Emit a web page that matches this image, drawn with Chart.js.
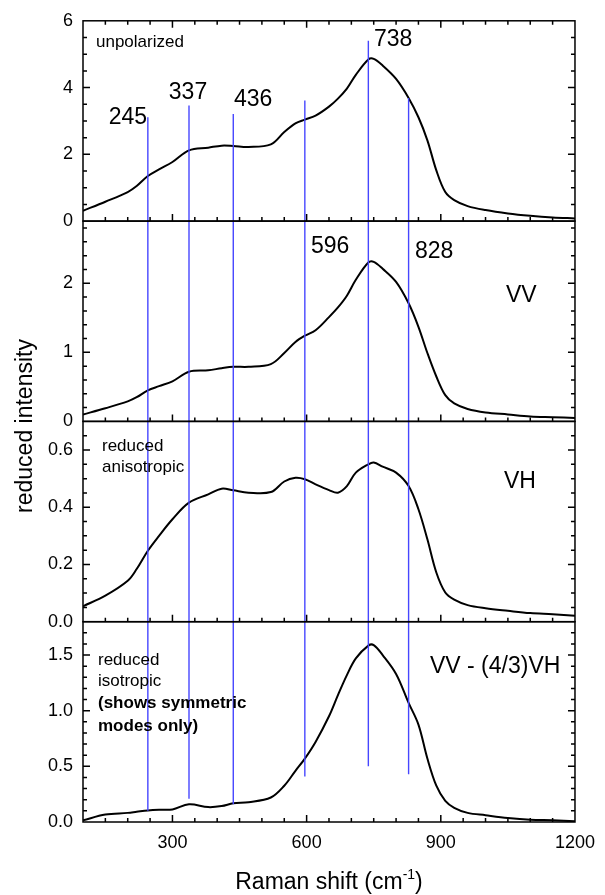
<!DOCTYPE html>
<html>
<head>
<meta charset="utf-8">
<script src="https://cdn.jsdelivr.net/npm/chart.js@4.4.1/dist/chart.umd.min.js"></script>
<style>
  html, body { margin: 0; padding: 0; background: #fff; }
</style>
</head>
<body>
<canvas id="raman" width="605" height="895"></canvas>
<script>
// Raman shift (cm-1) shared by all four spectra
const ramanShift = [100, 150, 200, 220, 245, 270, 300, 337, 380, 410, 436, 470, 520, 550, 575, 596, 620, 650, 670, 690, 710,
  738, 750, 770, 800, 828, 850, 870, 890, 910, 930, 960, 1000, 1050, 1100, 1150, 1200];

// reduced intensities
const unpolarized = [0.31, 0.58, 0.87, 1.05, 1.35, 1.55, 1.77, 2.12, 2.20, 2.26, 2.25, 2.22, 2.30, 2.67, 2.93, 3.04, 3.16, 3.43, 3.67, 3.97, 4.38,
  4.84, 4.86, 4.66, 4.26, 3.69, 3.11, 2.42, 1.52, 0.87, 0.63, 0.45, 0.33, 0.23, 0.16, 0.11, 0.08];
const vv = [0.10, 0.19, 0.29, 0.35, 0.45, 0.51, 0.58, 0.72, 0.74, 0.77, 0.79, 0.79, 0.83, 0.99, 1.15, 1.24, 1.32, 1.51, 1.65, 1.82, 2.05,
  2.30, 2.31, 2.21, 2.02, 1.71, 1.37, 0.99, 0.65, 0.38, 0.26, 0.18, 0.13, 0.10, 0.07, 0.06, 0.05];
const vh = [0.054, 0.091, 0.143, 0.184, 0.248, 0.300, 0.358, 0.416, 0.445, 0.465, 0.459, 0.451, 0.453, 0.490, 0.503, 0.498, 0.480, 0.460, 0.451, 0.474, 0.521,
  0.550, 0.556, 0.542, 0.521, 0.474, 0.393, 0.288, 0.172, 0.102, 0.077, 0.058, 0.047, 0.038, 0.030, 0.026, 0.021];
const isotropic = [0.015, 0.067, 0.082, 0.092, 0.104, 0.110, 0.113, 0.159, 0.134, 0.143, 0.168, 0.178, 0.220, 0.326, 0.460, 0.570, 0.720, 0.950, 1.140, 1.320, 1.470,
  1.585, 1.590, 1.500, 1.330, 1.070, 0.875, 0.570, 0.326, 0.190, 0.128, 0.082, 0.061, 0.037, 0.021, 0.015, 0.006];

// mode markers: shift, top end (unpolarized units), bottom end (isotropic units)
const peakShifts = [245, 337, 436, 596, 738, 828];
const peakTops = [3.11, 3.46, 3.21, 3.61, 5.40, 3.69];
const peakBottoms = [0.10, 0.21, 0.16, 0.41, 0.50, 0.43];
const peakLabels = ['245', '337', '436', '596', '738', '828'];

// axis limits and tick steps per panel
const xTicks = [300, 600, 900, 1200];
const panelMax = [6, 2.9, 0.7, 1.8];
const majorSteps = [2, 1, 0.2, 0.5];
const minorSteps = [0.5, 0.2, 0.05, 0.1];
const labelDigits = [0, 0, 1, 1];

const FONT = '"Liberation Sans", Arial, Helvetica, sans-serif';
const panelIds = ['y1', 'y2', 'y3', 'y4'];

Chart.defaults.font.family = FONT;
Chart.defaults.color = '#000';

// text placed on the panels (pixel positions, middle baseline)
const notes = [
  { text: 'unpolarized', x: 96, y: 42, font: '17px' },
  { text: 'reduced', x: 102, y: 446, font: '17px' },
  { text: 'anisotropic', x: 102, y: 467, font: '17px' },
  { text: 'reduced', x: 98, y: 660, font: '17px' },
  { text: 'isotropic', x: 98, y: 681, font: '17px' },
  { text: '(shows symmetric', x: 98, y: 703, font: 'bold 17px' },
  { text: 'modes only)', x: 98, y: 726, font: 'bold 17px' },
  { text: 'VV', x: 506, y: 296, font: '23px' },
  { text: 'VH', x: 504, y: 482, font: '23px' },
  { text: 'VV - (4/3)VH', x: 430, y: 667, font: '23px' },
  { text: peakLabels[0], x: 147, y: 118, font: '23px', align: 'right' },
  { text: peakLabels[1], x: 188, y: 93, font: '23px', align: 'center' },
  { text: peakLabels[2], x: 234, y: 100, font: '23px' },
  { text: peakLabels[3], x: 311, y: 247, font: '23px' },
  { text: peakLabels[4], x: 374, y: 40, font: '23px' },
  { text: peakLabels[5], x: 415, y: 252, font: '23px' }
];

function isMultiple(v, step) {
  const r = v / step;
  return Math.abs(r - Math.round(r)) < 1e-6;
}

const decorations = {
  id: 'decorations',
  afterDatasetsDraw(chart) {
    const { ctx, chartArea: area, scales } = chart;
    const xs = scales.x;
    ctx.save();

    // blue mode lines from the top panel down to the bottom one
    ctx.strokeStyle = 'rgb(70,70,255)';
    ctx.lineWidth = 1.4;
    peakShifts.forEach((p, i) => {
      const px = xs.getPixelForValue(p);
      ctx.beginPath();
      ctx.moveTo(px, scales.y1.getPixelForValue(peakTops[i]));
      ctx.lineTo(px, scales.y4.getPixelForValue(peakBottoms[i]));
      ctx.stroke();
    });

    // frames and inward ticks
    ctx.strokeStyle = '#000';
    ctx.lineWidth = 1.5;
    panelIds.forEach((id, i) => {
      const ys = scales[id];
      ctx.strokeRect(area.left, ys.top, area.right - area.left, ys.bottom - ys.top);
      ctx.beginPath();
      for (let k = 1; k * minorSteps[i] < ys.max - 1e-6; k++) {
        const v = k * minorSteps[i];
        const len = isMultiple(v, majorSteps[i]) ? 7 : 4;
        const py = ys.getPixelForValue(v);
        ctx.moveTo(area.left, py); ctx.lineTo(area.left + len, py);
        ctx.moveTo(area.right, py); ctx.lineTo(area.right - len, py);
      }
      for (let v = 150; v < xs.max; v += 50) {
        const len = v % 300 === 0 ? 7 : 4;
        const px = xs.getPixelForValue(v);
        ctx.moveTo(px, ys.bottom); ctx.lineTo(px, ys.bottom - len);
        if (i === 0) { ctx.moveTo(px, ys.top); ctx.lineTo(px, ys.top + len); }
      }
      ctx.stroke();
    });

    // labels
    ctx.fillStyle = '#000';
    ctx.textBaseline = 'middle';
    notes.forEach(n => {
      ctx.font = n.font + ' ' + FONT;
      ctx.textAlign = n.align || 'left';
      ctx.fillText(n.text, n.x, n.y);
    });

    // axis titles
    ctx.textBaseline = 'alphabetic';
    ctx.font = '23px ' + FONT;
    const main = 'Raman shift (cm', sup = '-1', tail = ')';
    ctx.textAlign = 'left';
    const w1 = ctx.measureText(main).width;
    const w3 = ctx.measureText(tail).width;
    ctx.font = '14px ' + FONT;
    const w2 = ctx.measureText(sup).width;
    const cx = (area.left + area.right) / 2;
    let tx = cx - (w1 + w2 + w3) / 2;
    ctx.font = '23px ' + FONT;
    ctx.fillText(main, tx, 889);
    ctx.font = '14px ' + FONT;
    ctx.fillText(sup, tx + w1, 879);
    ctx.font = '23px ' + FONT;
    ctx.fillText(tail, tx + w1 + w2, 889);

    ctx.translate(32, 426);
    ctx.rotate(-Math.PI / 2);
    ctx.textAlign = 'center';
    ctx.fillText('reduced intensity', 0, 0);
    ctx.restore();
  }
};

const series = [unpolarized, vv, vh, isotropic];

const yScale = (i) => ({
  type: 'linear',
  position: 'left',
  stack: 'panels',
  stackWeight: 1,
  weight: 4 - i,
  min: 0,
  max: panelMax[i],
  grid: { display: false, drawTicks: false },
  border: { display: false },
  ticks: {
    stepSize: majorSteps[i],
    includeBounds: false,
    padding: 10,
    font: { size: 18 },
    callback: v => Number(v).toFixed(labelDigits[i])
  },
  afterFit: s => { s.width = 83; }
});

const scales = {
  x: {
    type: 'linear',
    min: 100,
    max: 1200,
    grid: { display: false, drawTicks: false },
    border: { display: false },
    afterBuildTicks: s => { s.ticks = xTicks.map(v => ({ value: v })); },
    ticks: { padding: 10, font: { size: 18 }, maxRotation: 0, autoSkip: false, callback: v => String(v) },
    afterFit: s => { s.height = 73; }
  }
};
panelIds.forEach((id, i) => { scales[id] = yScale(i); });

new Chart(document.getElementById('raman'), {
  type: 'line',
  data: {
    datasets: series.map((vals, i) => ({
      data: ramanShift.map((x, j) => ({ x: x, y: vals[j] })),
      xAxisID: 'x',
      yAxisID: panelIds[i],
      borderColor: '#000',
      borderWidth: 2,
      pointRadius: 0,
      tension: 0.35,
      fill: false
    }))
  },
  options: {
    responsive: false,
    animation: false,
    layout: { padding: { left: 0, right: 22, top: 20, bottom: 0 } },
    plugins: { legend: { display: false }, tooltip: { enabled: false } },
    scales: scales
  },
  plugins: [decorations]
});
</script>
</body>
</html>
